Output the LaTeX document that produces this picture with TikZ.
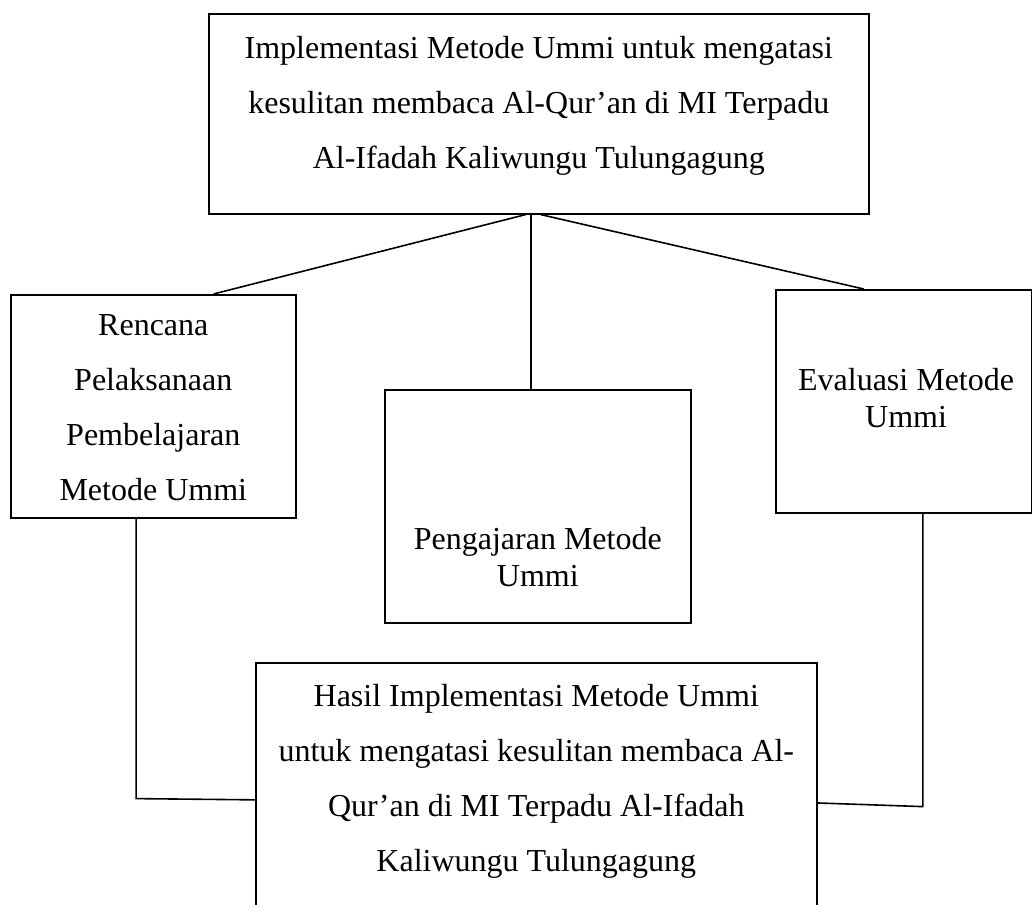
\documentclass[tikz,border=0pt]{standalone}
\usepackage{fontspec}
\setmainfont{Liberation Serif}
\usetikzlibrary{calc}

\tikzset{
  kotak/.style={draw, line width=0.8pt, inner sep=0pt, anchor=north west, font=\fontsize{16}{27.5}\selectfont},
  rapat/.style={font=\fontsize{16}{18.5}\selectfont},
  garis/.style={line width=0.8pt},
}

\begin{document}
\begin{tikzpicture}[x=0.5pt, y=-0.5pt]
	\clip (0,0) rectangle (1032,904);
	\node[kotak] (judul) at (208,13) {\parbox[t][100pt][t]{330pt}{\centering\rule{0pt}{22.5pt}Implementasi Metode Ummi untuk mengatasi\\kesulitan membaca Al-Qur’an di MI Terpadu\\Al-Ifadah Kaliwungu Tulungagung}};
	\node[kotak] (rencana) at (10,294) {\parbox[t][111.5pt][t]{142.5pt}{\centering\rule{0pt}{20.5pt}Rencana\\Pelaksanaan\\Pembelajaran\\Metode Ummi}};
	\node[kotak, rapat] (pengajaran) at (384,389) {\parbox[t][116.5pt][t]{153pt}{\centering\rule{0pt}{80pt}Pengajaran Metode\\Ummi}};
	\node[kotak, rapat] (evaluasi) at (775,289) {\parbox[t][111.5pt][t]{127.75pt}{\centering\rule{0pt}{50.5pt}\hspace*{2.5pt}Evaluasi Metode\\\hspace*{2.5pt}Ummi}};
	\node[kotak] (hasil) at (255,662) {\parbox[t][129pt][t]{280.5pt}{\centering\rule{0pt}{22pt}Hasil Implementasi Metode Ummi\\untuk mengatasi kesulitan membaca Al-\\Qur’an di MI Terpadu Al-Ifadah\\Kaliwungu Tulungagung}};
	\coordinate (pusat) at ($(judul.south west)!0.488!(judul.south east)$);
	\coordinate (kakikiri) at ($(rencana.south west)!0.44!(rencana.south east)$);
	\coordinate (kakikanan) at ($(evaluasi.south west)!0.575!(evaluasi.south east)$);
	\draw[garis] ($(judul.south west)!0.48!(judul.south east)$) -- ($(rencana.north west)!0.71!(rencana.north east)$);
	\draw[garis] (pusat) -- (pusat |- pengajaran.north);
	\draw[garis] ($(judul.south west)!0.503!(judul.south east)$) -- ($(evaluasi.north west)!0.345!(evaluasi.north east)$);
	\draw[garis] (kakikiri) -- ++(0,280) -- ($(hasil.north west)!0.531!(hasil.south west)$);
	\draw[garis] (kakikanan) -- ++(0,293) -- ($(hasil.north east)!0.543!(hasil.south east)$);
\end{tikzpicture}
\end{document}
